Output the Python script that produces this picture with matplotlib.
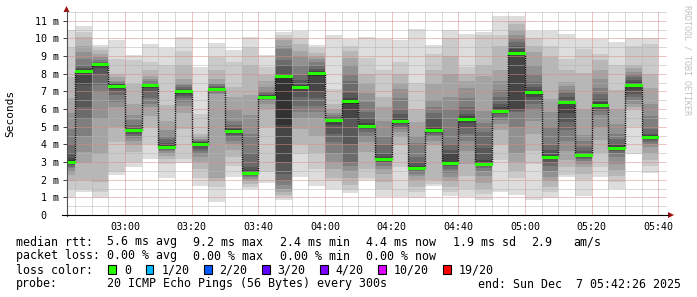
import matplotlib
matplotlib.use("Agg")
import matplotlib.pyplot as plt
from matplotlib.patches import Rectangle, Polygon

# ---------------- data ----------------
# time axis in minutes after midnight
t_start = 2 * 60 + 42 + 26 / 60      # 02:42:26
t_end = t_start + 180                 # 05:42:26
col_ends = [165 + 5 * k for k in range(36)]          # 02:45 ... 05:40
col_starts = [t_start] + col_ends[:-1]

tick_minutes = [180, 200, 220, 240, 260, 280, 300, 320, 340]
tick_labels = ["03:00", "03:20", "03:40", "04:00", "04:20", "04:40", "05:00", "05:20", "05:40"]

# median RTT per 5-minute step (ms)
median = [3.0, 8.14, 8.55, 7.29, 4.8, 7.34, 3.86, 7.02, 4.05, 7.12, 4.75, 2.39,
          6.7, 7.85, 7.23, 8.06, 5.39, 6.48, 5.03, 3.2, 5.33, 2.69, 4.82, 2.95,
          5.46, 2.9, 5.89, 9.2, 6.97, 3.28, 6.38, 3.39, 6.25, 3.8, 7.34, 4.41]

# 20 sorted ping times (ms) per step -> smoke
c00 = [0.94, 1.5, 1.9, 2.26, 2.45, 2.64, 2.73, 2.82, 2.88, 2.92, 3.1, 3.25, 3.5, 4.0, 4.9, 5.8, 6.6, 7.8, 9.5, 10.5]
c01 = [1.32, 1.45, 1.98, 2.92, 3.58, 4.5, 5.46, 6.12, 7.34, 8.1, 8.18, 8.25, 8.35, 8.47, 8.85, 9.23, 9.6, 10.07, 10.36, 10.68]
c02 = [0.98, 1.32, 1.88, 3.48, 5.46, 6.97, 7.34, 8.0, 8.3, 8.5, 8.55, 8.57, 8.6, 8.67, 8.76, 8.95, 9.13, 9.32, 9.47, 9.64]
c03 = [2.26, 2.45, 4.14, 5.0, 6.12, 6.4, 6.8, 7.0, 7.15, 7.25, 7.35, 7.4, 7.45, 7.5, 7.55, 7.6, 7.8, 8.0, 8.85, 9.89]
c04 = [2.73, 3.0, 3.58, 3.95, 4.2, 4.35, 4.5, 4.6, 4.68, 4.74, 4.82, 4.88, 4.95, 5.1, 5.37, 5.65, 6.3, 7.44, 8.76, 9.04]
c05 = [3.2, 4.0, 5.0, 5.6, 6.1, 6.3, 6.6, 7.0, 7.2, 7.3, 7.37, 7.4, 7.45, 7.5, 7.6, 7.7, 7.9, 8.2, 8.66, 9.66]
c06 = [2.07, 2.9, 3.2, 3.35, 3.5, 3.6, 3.68, 3.74, 3.78, 3.82, 3.92, 4.0, 4.1, 4.3, 4.5, 4.8, 5.3, 6.21, 8.47, 9.47]
c07 = [2.92, 3.2, 4.9, 5.8, 6.2, 6.4, 6.6, 6.75, 6.85, 6.95, 7.05, 7.1, 7.15, 7.25, 7.35, 7.5, 7.7, 8.47, 9.3, 10.11]
c08 = [1.66, 2.1, 2.6, 3.0, 3.3, 3.45, 3.6, 3.75, 3.9, 4.02, 4.1, 4.12, 4.15, 4.2, 4.25, 4.3, 4.4, 4.6, 5.74, 8.38]
c09 = [0.75, 1.6, 1.95, 2.07, 6.85, 6.9, 6.95, 7.0, 7.07, 7.12, 7.19, 7.22, 7.27, 7.33, 7.4, 7.5, 7.7, 8.2, 8.94, 9.75]
c10 = [2.17, 2.8, 3.3, 3.7, 4.0, 4.2, 4.4, 4.55, 4.65, 4.72, 4.8, 4.85, 4.95, 5.1, 5.3, 5.95, 6.7, 7.25, 8.66, 9.32]
c11 = [1.47, 1.6, 1.75, 1.9, 2.05, 2.15, 2.22, 2.28, 2.33, 2.37, 2.45, 2.55, 2.7, 3.5, 4.6, 5.65, 6.78, 8.5, 9.5, 10.07]
c12 = [1.79, 2.45, 5.0, 6.0, 6.3, 6.45, 6.55, 6.6, 6.64, 6.67, 6.73, 6.77, 6.82, 6.9, 7.0, 7.25, 7.6, 7.95, 8.38, 9.08]
c13 = [0.85, 1.0, 1.13, 1.3, 1.5, 1.7, 1.9, 2.35, 3.0, 5.08, 7.87, 8.0, 8.47, 8.8, 9.4, 9.6, 9.9, 10.05, 10.2, 10.36]
c14 = [2.17, 3.48, 4.0, 4.9, 5.5, 5.85, 6.2, 6.7, 7.0, 7.15, 7.25, 7.35, 7.65, 7.95, 8.47, 9.0, 9.3, 9.7, 10.0, 10.4]
c15 = [1.66, 2.6, 3.5, 4.5, 5.5, 5.84, 6.2, 6.6, 7.0, 7.9, 8.06, 8.15, 8.28, 8.47, 8.66, 8.85, 9.0, 9.2, 9.45, 9.64]
c16 = [1.5, 1.9, 2.07, 2.6, 3.0, 3.5, 4.14, 4.6, 5.08, 5.3, 5.41, 5.44, 5.48, 5.55, 5.65, 5.8, 6.0, 6.3, 7.16, 10.17]
c17 = [1.22, 1.4, 1.7, 2.1, 2.5, 2.8, 3.0, 4.0, 5.46, 6.3, 6.48, 6.6, 6.9, 7.6, 8.0, 8.5, 8.9, 9.3, 9.6, 9.98]
c18 = [1.98, 2.07, 2.6, 3.58, 4.14, 4.4, 4.7, 4.85, 4.95, 5.02, 5.08, 5.2, 5.5, 5.84, 6.4, 6.9, 7.5, 8.0, 8.9, 10.07]
c19 = [1.04, 1.5, 1.88, 2.3, 2.6, 2.8, 2.92, 3.0, 3.1, 3.15, 3.22, 3.3, 3.5, 3.95, 4.4, 5.3, 6.1, 6.7, 8.2, 9.98]
c20 = [1.04, 2.73, 3.95, 4.4, 4.7, 4.9, 5.0, 5.1, 5.2, 5.26, 5.35, 5.5, 5.7, 6.0, 6.6, 7.16, 7.5, 8.0, 8.66, 9.89]
c21 = [0.94, 1.3, 1.6, 1.98, 2.2, 2.35, 2.45, 2.55, 2.6, 2.65, 2.72, 2.8, 3.0, 3.3, 4.1, 4.5, 5.27, 6.0, 7.5, 10.55]
c22 = [1.66, 1.75, 2.0, 3.95, 4.2, 4.4, 4.55, 4.65, 4.72, 4.78, 4.86, 5.0, 5.5, 5.8, 6.12, 6.5, 7.44, 8.2, 9.1, 9.64]
c23 = [1.09, 1.3, 1.6, 1.9, 2.17, 2.4, 2.6, 2.75, 2.85, 2.92, 3.0, 3.5, 3.7, 4.0, 6.0, 6.7, 8.0, 9.0, 10.0, 10.5]
c24 = [1.04, 1.5, 2.2, 2.9, 3.6, 4.2, 4.6, 5.0, 5.2, 5.35, 5.52, 5.6, 5.75, 6.1, 6.6, 7.2, 7.6, 8.0, 8.4, 10.26]
c25 = [0.85, 1.2, 1.5, 1.8, 2.2, 2.5, 2.65, 2.75, 2.83, 2.88, 2.97, 3.1, 3.8, 4.7, 5.2, 5.9, 7.9, 8.5, 10.2, 10.36]
c26 = [1.32, 3.1, 4.0, 4.8, 5.18, 5.4, 5.56, 5.7, 5.8, 5.85, 5.92, 6.1, 6.3, 6.68, 7.06, 7.6, 8.19, 9.6, 10.17, 11.3]
c27 = [1.13, 2.07, 2.5, 3.0, 3.5, 5.0, 5.84, 5.9, 6.0, 9.1, 9.25, 9.4, 9.6, 9.8, 10.0, 10.17, 10.5, 10.8, 11.0, 11.3]
c28 = [0.85, 2.9, 3.6, 4.61, 5.3, 5.93, 6.3, 6.5, 6.7, 6.85, 6.97, 7.06, 7.25, 7.53, 8.0, 8.5, 9.23, 9.6, 10.0, 10.45]
c29 = [0.94, 1.32, 1.6, 1.9, 2.17, 2.5, 2.8, 3.0, 3.15, 3.25, 3.3, 3.39, 3.7, 3.95, 5.0, 5.84, 6.59, 8.94, 9.6, 10.45]
c30 = [2.17, 2.26, 2.7, 3.1, 3.6, 4.2, 4.8, 5.27, 5.8, 6.3, 6.4, 6.5, 6.68, 6.9, 7.06, 7.3, 7.53, 8.2, 8.85, 10.26]
c31 = [1.08, 1.98, 2.3, 2.73, 2.9, 3.05, 3.15, 3.25, 3.3, 3.35, 3.42, 3.48, 3.6, 3.86, 4.2, 4.52, 6.0, 8.06, 9.41, 9.98]
c32 = [2.17, 2.73, 3.5, 4.24, 5.0, 5.65, 5.9, 6.0, 6.1, 6.2, 6.3, 6.4, 6.59, 6.87, 7.2, 7.72, 8.2, 8.76, 9.13, 9.98]
c33 = [1.5, 1.88, 2.2, 2.54, 2.9, 3.3, 3.5, 3.6, 3.7, 3.76, 3.84, 3.95, 4.05, 4.3, 4.61, 5.18, 6.0, 7.06, 8.47, 9.79]
c34 = [3.45, 5.0, 6.0, 6.12, 6.3, 6.5, 6.7, 6.87, 7.1, 7.25, 7.42, 7.53, 7.65, 7.81, 8.0, 8.1, 8.3, 8.47, 9.6, 10.04]
c35 = [2.36, 2.8, 3.1, 3.5, 3.86, 4.0, 4.15, 4.25, 4.32, 4.37, 4.45, 4.55, 4.61, 4.9, 5.6, 6.3, 7.2, 8.0, 9.7, 10.04]
pings = [c00, c01, c02, c03, c04, c05, c06, c07, c08, c09, c10, c11, c12, c13, c14, c15, c16, c17,
         c18, c19, c20, c21, c22, c23, c24, c25, c26, c27, c28, c29, c30, c31, c32, c33, c34, c35]

ytick_values = list(range(12))
ytick_labels = ["0  "] + [f"{v} m" for v in range(1, 12)]

stat_row1 = ["5.6 ms avg", "9.2 ms max", "2.4 ms min", "4.4 ms now", "1.9 ms sd", "2.9", "am/s"]
stat_row2 = ["0.00 % avg", "0.00 % max", "0.00 % min", "0.00 % now"]
loss_labels = ["0", "1/20", "2/20", "3/20", "4/20", "10/20", "19/20"]
loss_colors = ["#26ff00", "#00b8ff", "#0059ff", "#5e00ff", "#7e00ff", "#dd00ff", "#ff0000"]
probe_text = "20 ICMP Echo Pings (56 Bytes) every 300s"
end_text = "end: Sun Dec  7 05:42:26 2025"

# ---------------- figure ----------------
W, H = 697, 297
MONO = "DejaVu Sans Mono"
fig = plt.figure(figsize=(W / 100, H / 100), dpi=100)
fig.patch.set_facecolor("white")

X0, X1 = 66.5, 666.5
YB, YT = 215.0, 12.0
ax = fig.add_axes([X0 / W, 1 - YB / H, (X1 - X0) / W, (YB - YT) / H])
ax.set_xlim(t_start, t_end)
ax.set_ylim(0, 11.5)
ax.set_facecolor("white")
for s in ax.spines.values():
    s.set_visible(False)

# smoke: nested pairs, outer = light, inner = dark
n = 20
half = n // 2
for ci, vals in enumerate(pings):
    v = sorted(vals)
    x0, x1 = col_starts[ci], col_ends[ci]
    for ib in range(1, half + 1):
        it = n - ib + 1
        g = int(190 / half * (half - ib)) + 50
        col = "#%02x%02x%02x" % (g, g, g)
        lo, hi = v[ib - 1], v[it - 1]
        ax.bar(x0, hi - lo, bottom=lo, width=x1 - x0, align="edge",
               color=col, linewidth=0, antialiased=False, zorder=2)

# grid (dotted, drawn over the smoke)
dot = (0, (1, 1))
for k in range(1, 24):
    yv = k * 0.5
    major = (k % 2 == 0)
    ax.axhline(yv, color="#d98a8a" if major else "#b4b4b4", lw=0.72, ls=dot, zorder=3)
for xm in range(165, 345, 5):
    major = (xm % 20 == 0)
    ax.axvline(xm, color="#d98a8a" if major else "#b4b4b4", lw=0.72, ls=dot, zorder=3)

# median: dotted step connectors + green segments
for k in range(len(median) - 1):
    ax.vlines(col_ends[k], min(median[k], median[k + 1]), max(median[k], median[k + 1]),
              colors="#000000", lw=1.0, ls=(0, (0.8, 0.8)), zorder=4)
ax.hlines(median, col_starts, col_ends, colors="#26ff00", lw=2.0, zorder=5,
          antialiased=False)

# ticks
ax.set_yticks(ytick_values)
ax.set_yticklabels(ytick_labels, fontfamily=MONO, fontsize=7.2)
ax.set_xticks(tick_minutes)
ax.set_xticklabels(tick_labels, fontfamily=MONO, fontsize=7.2)
ax.tick_params(axis="y", length=3, width=0.7, color="#404040", pad=2.5)
ax.tick_params(axis="x", length=0, pad=5.0)

# ---------------- overlay in pixel coordinates ----------------
ov = fig.add_axes([0, 0, 1, 1], zorder=10)
ov.set_xlim(0, W)
ov.set_ylim(H, 0)
ov.axis("off")
ov.patch.set_alpha(0)

# axis lines + arrows
ov.plot([X0, X0], [YB + 1, 11], color="#505050", lw=0.8)
ov.plot([62, 668], [YB, YB], color="#000000", lw=0.8)
ov.add_patch(Polygon([[X0 - 3, 12], [X0 + 3, 12], [X0, 6]], closed=True, color="#a01010", lw=0))
ov.add_patch(Polygon([[668, YB - 3], [668, YB + 3], [674, YB]], closed=True, color="#a01010", lw=0))

# y label and watermark
ov.text(10.5, 113.5, "Seconds", rotation=90, ha="center", va="center",
        fontfamily=MONO, fontsize=8, color="#000000")
ov.text(687, 60, "RRDTOOL / TOBI OETIKER", rotation=270, ha="center", va="center",
        fontfamily=MONO, fontsize=6, color="#c0c0c0")

# legend / statistics
FS = 8.4
base = [245.5, 259.5, 273.5, 287.5]
ov.text(16, base[0], "median rtt:", fontfamily=MONO, fontsize=FS, va="baseline")
for xp, s in zip([107.3, 193.3, 280, 366.3, 453.2, 531.2, 573.5], stat_row1):
    ov.text(xp, base[0], s, fontfamily=MONO, fontsize=FS, va="baseline")
ov.text(16, base[1], "packet loss:", fontfamily=MONO, fontsize=FS, va="baseline")
for xp, s in zip([107.3, 193.3, 279.5, 365.5], stat_row2):
    ov.text(xp, base[1], s, fontfamily=MONO, fontsize=FS, va="baseline")
ov.text(16, base[2], "loss color:", fontfamily=MONO, fontsize=FS, va="baseline")
sq_x = [108.3, 145.7, 204.0, 262.0, 320.0, 378.3, 443.4]
for xp, lab, c in zip(sq_x, loss_labels, loss_colors):
    ov.add_patch(Rectangle((xp, 264.5), 7.5, 9.5, facecolor=c, edgecolor="black", lw=0.8))
    ov.text(xp + 15.6, base[2], lab, fontfamily=MONO, fontsize=FS, va="baseline")
ov.text(16, base[3], "probe:", fontfamily=MONO, fontsize=FS, va="baseline")
ov.text(107.3, base[3], probe_text, fontfamily=MONO, fontsize=FS, va="baseline")
ov.text(681.5, base[3], end_text, fontfamily=MONO, fontsize=FS, va="baseline", ha="right")

fig.savefig("out.png", dpi=100, facecolor="white")
